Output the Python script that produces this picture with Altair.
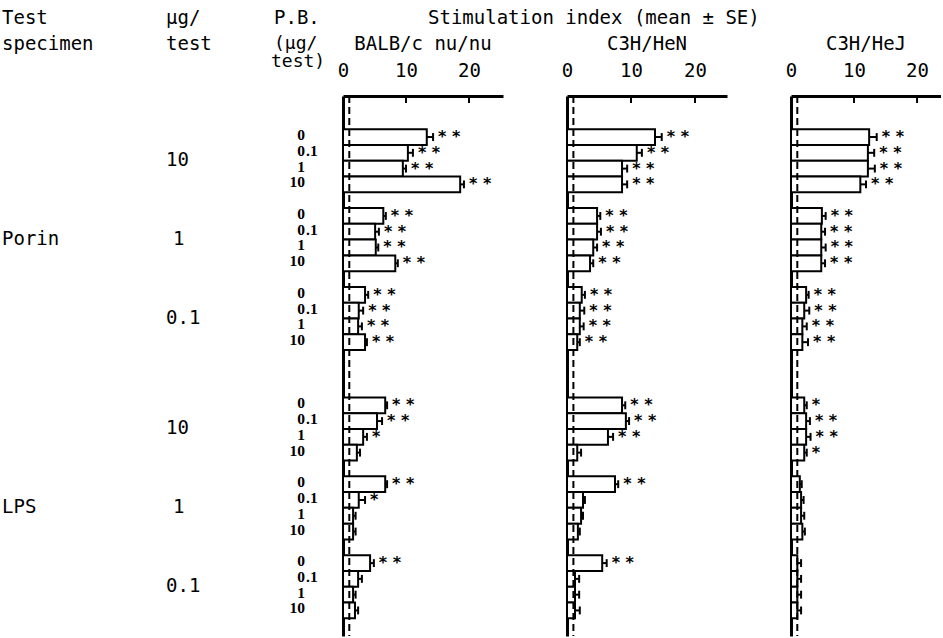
import altair as alt
import pandas as pd

# ---------------- data ----------------
strains = ["BALB/c nu/nu", "C3H/HeN", "C3H/HeJ"]
groups = [("Porin", "10"), ("Porin", "1"), ("Porin", "0.1"),
          ("LPS", "10"), ("LPS", "1"), ("LPS", "0.1")]
pb_levels = ["0", "0.1", "1", "10"]
tick_values = [0, 10, 20]
ref_si = [1]

# order: Porin10(PB 0,0.1,1,10), Porin1, Porin0.1, LPS10, LPS1, LPS0.1
balb_mean = [13.3, 10.3, 9.5, 18.6, 6.4, 5.1, 5.2, 8.3, 3.5, 2.5, 2.4, 3.5,
             6.7, 5.4, 3.2, 2.2, 6.7, 2.5, 1.6, 1.6, 4.3, 2.4, 1.6, 1.9]
balb_se = [1.0, 0.8, 0.5, 0.6, 0.4, 0.6, 0.4, 0.4, 0.5, 0.7, 0.6, 0.3,
           0.3, 0.8, 0.6, 0.5, 0.3, 1.0, 0.4, 0.4, 0.6, 0.6, 0.4, 0.5]
hen_mean = [13.75, 10.9, 8.6, 8.6, 4.7, 4.7, 4.1, 3.6, 2.3, 2.0, 2.0, 1.6,
            8.6, 9.2, 6.4, 1.6, 7.5, 2.5, 2.2, 1.7, 5.5, 1.25, 1.25, 1.25]
hen_se = [1.05, 0.8, 0.8, 0.8, 0.5, 0.6, 0.6, 0.5, 0.5, 0.7, 0.6, 0.4,
          0.5, 0.5, 0.8, 0.6, 0.5, 0.3, 0.3, 0.3, 0.7, 0.65, 0.65, 0.75]
hej_mean = [12.4, 12.2, 12.2, 11.0, 4.9, 4.8, 4.8, 4.8, 2.4, 2.1, 1.8, 1.8,
            2.1, 2.4, 2.4, 2.1, 1.4, 1.6, 1.6, 1.8, 1.0, 1.0, 1.0, 1.0]
hej_se = [1.2, 1.0, 1.1, 0.9, 0.6, 0.6, 0.7, 0.6, 0.4, 0.8, 0.7, 0.9,
          0.4, 0.6, 0.7, 0.4, 0.3, 0.4, 0.5, 0.4, 0.6, 0.6, 0.6, 0.6]
balb_sig = ["**"] * 12 + ["**", "**", "*", "", "**", "*", "", "", "**", "", "", ""]
hen_sig = ["**"] * 12 + ["**", "**", "**", "", "**", "", "", "", "**", "", "", ""]
hej_sig = ["**"] * 12 + ["*", "**", "**", "*", "", "", "", "", "", "", "", ""]

means = [balb_mean, hen_mean, hej_mean]
ses = [balb_se, hen_se, hej_se]
sigs = [balb_sig, hen_sig, hej_sig]

# ---------------- layout constants ----------------
H = 540
NROWS = 34.22
TOP_ROWS = 2.1
FONT = "DejaVu Sans Mono"
FS = 19
L1, L2, L3 = -72, -46, -29   # header baselines relative to the plot top


def row_start(g, l):
    return TOP_ROWS + 5 * g + (2 if g >= 3 else 0) + l


recs = []
for si, strain in enumerate(strains):
    for g, (spec, dose) in enumerate(groups):
        for l, pb in enumerate(pb_levels):
            i = g * 4 + l
            r0 = row_start(g, l)
            m = means[si][i]
            recs.append(dict(strain=strain, spec=spec, dose=dose, pb=pb,
                             mean=m, hi=m + ses[si][i], sig=sigs[si][i],
                             r0=r0, r1=r0 + 1, rc=r0 + 0.5,
                             c0=r0 + 0.25, c1=r0 + 0.75))
df = pd.DataFrame(recs)

ys = alt.Scale(domain=[0, NROWS], reverse=True, nice=False, zero=False)

XAXIS = alt.Axis(orient="top", values=tick_values, title=None,
                 ticks=False, tickSize=0, grid=False,
                 domain=True, domainWidth=3, domainColor="black",
                 labelFont=FONT, labelFontSize=FS, labelColor="black",
                 labelPadding=16, labelFlush=False)
YAXIS = alt.Axis(orient="left", labels=False, ticks=False, grid=False,
                 title=None, domain=True, domainWidth=3, domainColor="black")


def text_at(s, x, y, align="left", size=FS, font=FONT, weight="normal"):
    return alt.Chart(pd.DataFrame({"t": [s]})).mark_text(
        align=align, baseline="alphabetic", font=font, fontSize=size,
        fontWeight=weight, color="black"
    ).encode(text="t:N", x=alt.value(x), y=alt.value(y))


def panel(strain, dom_max, w):
    d = df[df.strain == strain]
    xs = alt.Scale(domain=[0, dom_max], nice=False, zero=False)

    def X(f):
        return alt.X(f, scale=xs, axis=XAXIS)

    def Y(f):
        return alt.Y(f, scale=ys, axis=YAXIS)

    base = alt.Chart(d)
    bars = base.mark_bar(fill="white", stroke="black", strokeWidth=2).encode(
        x=X("mean:Q"), x2=alt.datum(0), y=Y("r0:Q"), y2="r1:Q")
    err = base.mark_rule(color="black", strokeWidth=2).encode(
        x=X("mean:Q"), x2="hi:Q", y=Y("rc:Q"))
    cap = base.mark_rule(color="black", strokeWidth=2).encode(
        x=X("hi:Q"), y=Y("c0:Q"), y2="c1:Q")
    stars = base.transform_calculate(
        star="replace(datum.sig, '**', '* *')"
    ).mark_text(align="left", baseline="middle", dx=5, dy=0,
                font="DejaVu Sans", fontWeight="bold", fontSize=16,
                color="black").encode(
        x=X("hi:Q"), y=Y("rc:Q"), text="star:N")
    dash = alt.Chart(pd.DataFrame({"ref": ref_si})).mark_rule(
        color="black", strokeWidth=2, strokeDash=[7, 4]).encode(
        x=X("ref:Q"))
    ticks = alt.Chart(pd.DataFrame({"t": tick_values[1:]})).mark_rule(
        color="black", strokeWidth=2).encode(
        x=X("t:Q"), y=alt.value(0), y2=alt.value(7))
    title = text_at(strain, w / 2, L2, align="center")
    return alt.layer(bars, err, cap, dash, stars, ticks, title).properties(
        width=w, height=H)


# ---------------- left text panel ----------------
first = df[df.strain == strains[0]].copy()
first["pb_int"] = first.pb.str.split(".").str[0]
first["pb_frac"] = first.pb.apply(lambda s: "." + s.split(".")[1] if "." in s else "")

PBF = 15.5
pb_int = alt.Chart(first).mark_text(
    align="right", baseline="middle", dy=-2, font="Liberation Serif",
    fontWeight="bold", fontSize=PBF, color="black").encode(
    x=alt.value(305), y=alt.Y("rc:Q", scale=ys, axis=None), text="pb_int:N")
pb_frac = alt.Chart(first).mark_text(
    align="left", baseline="middle", dy=-2, font="Liberation Serif",
    fontWeight="bold", fontSize=PBF, color="black").encode(
    x=alt.value(306), y=alt.Y("rc:Q", scale=ys, axis=None), text="pb_frac:N")

grp = first.groupby(["spec", "dose"], sort=False).agg(
    top=("r0", "min"), bot=("r1", "max")).reset_index()
grp["mid"] = (grp.top + grp.bot) / 2
dose_txt = alt.Chart(grp).transform_filter("datum.dose != '1'").mark_text(
    align="left", baseline="middle", dy=-1, font=FONT, fontSize=FS,
    color="black").encode(
    x=alt.value(166), y=alt.Y("mid:Q", scale=ys, axis=None), text="dose:N")
dose_one = alt.Chart(grp).transform_filter("datum.dose == '1'").mark_text(
    align="left", baseline="middle", dy=-1, font=FONT, fontSize=FS,
    color="black").encode(
    x=alt.value(173), y=alt.Y("mid:Q", scale=ys, axis=None), text="dose:N")
spec_txt = alt.Chart(grp).transform_filter("datum.dose == '1'").mark_text(
    align="left", baseline="middle", dy=-1, font=FONT, fontSize=FS,
    color="black").encode(
    x=alt.value(2), y=alt.Y("mid:Q", scale=ys, axis=None), text="spec:N")

left = alt.layer(
    pb_int, pb_frac, dose_txt, dose_one, spec_txt,
    text_at("Test", 2, L1), text_at("specimen", 2, L2),
    text_at("µg/", 166, L1), text_at("test", 166, L2),
    text_at("P.B.", 274, L1), text_at("(µg/", 274, L2 - 1, size=18),
    text_at("test)", 271, L3, size=18),
    text_at("Stimulation index (mean ± SE)", 428, L1),
).properties(width=279, height=H)

chart = alt.hconcat(
    left,
    panel(strains[0], 25.4, 160),
    panel(strains[1], 25.0, 160),
    panel(strains[2], 23.8, 150),
    spacing=64, bounds="flush",
).properties(
    padding={"left": 0, "right": 0, "top": 9, "bottom": 0},
    background="white",
).configure_view(stroke=None)

chart.save("out.html", embed_options={"renderer": "svg", "actions": False})
